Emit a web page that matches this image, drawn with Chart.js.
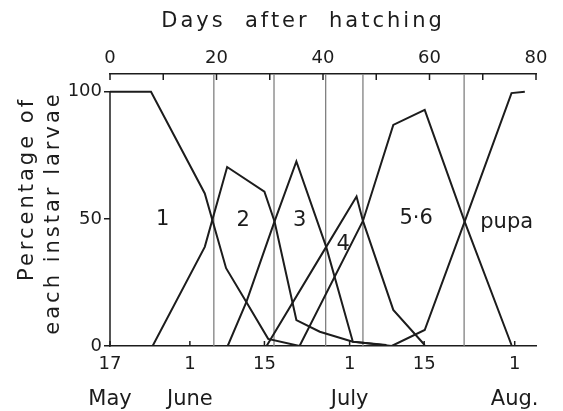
<!DOCTYPE html>
<html>
<head>
<meta charset="utf-8">
<script src="https://cdn.jsdelivr.net/npm/chart.js@4.4.1/dist/chart.umd.min.js"></script>
<style>
  html, body { margin: 0; padding: 0; background: #fff; }
  #c { display: block; }
</style>
</head>
<body>
<canvas id="c" width="563" height="411"></canvas>
<script>
// Days after hatching (day 0 = 17 May) and percentage of larvae in each stage
const instar1Days = [0, 7.7, 17.8, 21.8, 25.6, 29.7, 35.6];
const instar1Pct  = [100, 100, 60, 30.6, 17.3, 2.8, 0];

const instar2Days = [8.0, 17.8, 22.0, 29.0, 30.9, 35.0, 39.4, 45.6, 51.9];
const instar2Pct  = [0, 39, 70.4, 60.7, 49, 10.2, 5.6, 1.7, 0.4];

const instar3Days = [22.1, 25.6, 30.9, 35.0, 40.6, 45.6, 52.9];
const instar3Pct  = [0, 17.3, 49, 72.6, 39, 1.7, 0];

const instar4Days = [29.4, 40.6, 46.3, 47.5, 53.2, 59.1];
const instar4Pct  = [0, 39, 58.8, 49.2, 14.2, 0.4];

const instar56Days = [35.6, 47.5, 53.2, 59.1, 66.6, 75.4];
const instar56Pct  = [0, 49.2, 87, 92.9, 48.9, 0.4];

const pupaDays = [52.9, 59.1, 66.6, 75.4, 77.9];
const pupaPct  = [0, 6.3, 48.9, 99.5, 100];

// Days where one stage gives way to the next
const stageBoundaryDays = [19.5, 30.8, 40.5, 47.5, 66.5];

// Stage names written inside the plot
const stageNames    = ['1', '2', '3', '4', '5\u00b76', 'pupa'];
const stageNameDays = [9.9, 25.0, 35.6, 43.8, 57.5, 74.5];
const stageNamePct  = [49.6, 49.2, 49.2, 39.8, 50, 48.6];

// Axis ticks
const dayTicks       = [0, 10, 20, 30, 40, 50, 60, 70, 80];
const dateTickDays   = [0, 15, 29, 45, 59, 76];
const dateTickLabels = ['17', '1', '15', '1', '15', '1'];
const monthTickDays  = [0, 15, 45, 76];
const monthLabels    = ['May', 'June', 'July', 'Aug.'];
const pctTicks       = [0, 50, 100];

const FONT = 'DejaVu Sans';
const INK = '#1c1c1c';

const toPoints = (xs, ys) => xs.map((d, i) => ({ x: d, y: ys[i] }));
const series = [
  toPoints(instar1Days, instar1Pct),
  toPoints(instar2Days, instar2Pct),
  toPoints(instar3Days, instar3Pct),
  toPoints(instar4Days, instar4Pct),
  toPoints(instar56Days, instar56Pct),
  toPoints(pupaDays, pupaPct)
];

const decor = {
  id: 'decor',
  beforeDatasetsDraw(chart) {
    const { ctx, chartArea: a, scales: { x } } = chart;
    ctx.save();
    ctx.strokeStyle = '#808080';
    ctx.lineWidth = 1.3;
    stageBoundaryDays.forEach(d => {
      const px = x.getPixelForValue(d);
      ctx.beginPath();
      ctx.moveTo(px, a.top);
      ctx.lineTo(px, a.bottom);
      ctx.stroke();
    });
    ctx.restore();
  },
  afterDraw(chart) {
    const { ctx, chartArea: a, scales: { x, x2, y } } = chart;
    ctx.save();
    ctx.strokeStyle = INK;
    ctx.lineWidth = 1.5;
    // left axis runs from 0 % to 100 % only
    ctx.beginPath();
    ctx.moveTo(a.left, y.getPixelForValue(0) + 0.75);
    ctx.lineTo(a.left, y.getPixelForValue(100));
    ctx.stroke();
    // inward tick marks on the day axis
    dayTicks.forEach(d => {
      const px = x2.getPixelForValue(d);
      ctx.beginPath();
      ctx.moveTo(px, a.top);
      ctx.lineTo(px, a.top + 6);
      ctx.stroke();
    });
    // inward tick marks on the date axis
    dateTickDays.forEach(d => {
      const px = x.getPixelForValue(d);
      ctx.beginPath();
      ctx.moveTo(px, a.bottom);
      ctx.lineTo(px, a.bottom - 5);
      ctx.stroke();
    });

    // stage names
    ctx.fillStyle = INK;
    ctx.textAlign = 'center';
    ctx.textBaseline = 'middle';
    ctx.font = '21px "' + FONT + '"';
    stageNames.forEach((t, i) => {
      ctx.fillText(t, x.getPixelForValue(stageNameDays[i]), y.getPixelForValue(stageNamePct[i]));
    });

    // axis titles
    ctx.letterSpacing = '3px';
    ctx.fillText('Days  after  hatching', (a.left + a.right) / 2 - 20, 22);
    ctx.translate(28, 189);
    ctx.rotate(-Math.PI / 2);
    ctx.fillText('Percentage of', 0, 0);
    ctx.translate(-24, 26);
    ctx.fillText('each instar larvae', 0, 0);
    ctx.restore();
  }
};

new Chart(document.getElementById('c'), {
  type: 'line',
  data: {
    datasets: series.map(pts => ({
      data: pts,
      borderColor: INK,
      borderWidth: 2,
      pointRadius: 0,
      tension: 0,
      fill: false
    }))
  },
  options: {
    responsive: false,
    animation: false,
    layout: { padding: { left: 0, right: 27, top: 0, bottom: 0 } },
    plugins: { legend: { display: false }, tooltip: { enabled: false } },
    scales: {
      x: {
        type: 'linear', position: 'bottom', min: 0, max: 80, weight: 0,
        afterBuildTicks: s => { s.ticks = dateTickDays.map(v => ({ value: v })); },
        afterFit: s => { s.height = 36; },
        ticks: {
          callback: (v, i) => dateTickLabels[i],
          font: { family: FONT, size: 18 }, color: INK,
          padding: 8, maxRotation: 0, autoSkip: false
        },
        grid: { display: false, drawTicks: false },
        border: { display: true, color: INK, width: 1.5 }
      },
      months: {
        type: 'linear', position: 'bottom', min: 0, max: 80, weight: 1,
        afterBuildTicks: s => { s.ticks = monthTickDays.map(v => ({ value: v })); },
        afterFit: s => { s.height = 29; },
        ticks: {
          callback: (v, i) => monthLabels[i],
          font: { family: FONT, size: 21 }, color: INK,
          padding: 5, maxRotation: 0, autoSkip: false
        },
        grid: { display: false, drawTicks: false },
        border: { display: false }
      },
      x2: {
        type: 'linear', position: 'top', min: 0, max: 80,
        afterBuildTicks: s => { s.ticks = dayTicks.map(v => ({ value: v })); },
        afterFit: s => { s.height = 74; },
        ticks: {
          callback: v => (v % 20 === 0 ? String(v) : ''),
          font: { family: FONT, size: 18 }, color: INK,
          padding: 5, maxRotation: 0, autoSkip: false
        },
        grid: { display: false, drawTicks: false },
        border: { display: true, color: INK, width: 1.5 }
      },
      y: {
        type: 'linear', position: 'left', min: 0, max: 107,
        afterBuildTicks: s => { s.ticks = pctTicks.map(v => ({ value: v })); },
        afterFit: s => { s.width = 110; },
        ticks: {
          font: { family: FONT, size: 18 }, color: INK, padding: 2
        },
        grid: { display: true, drawOnChartArea: false, drawTicks: true, tickLength: 6, color: INK, lineWidth: 1.5 },
        border: { display: false }
      }
    }
  },
  plugins: [decor]
});
</script>
</body>
</html>
